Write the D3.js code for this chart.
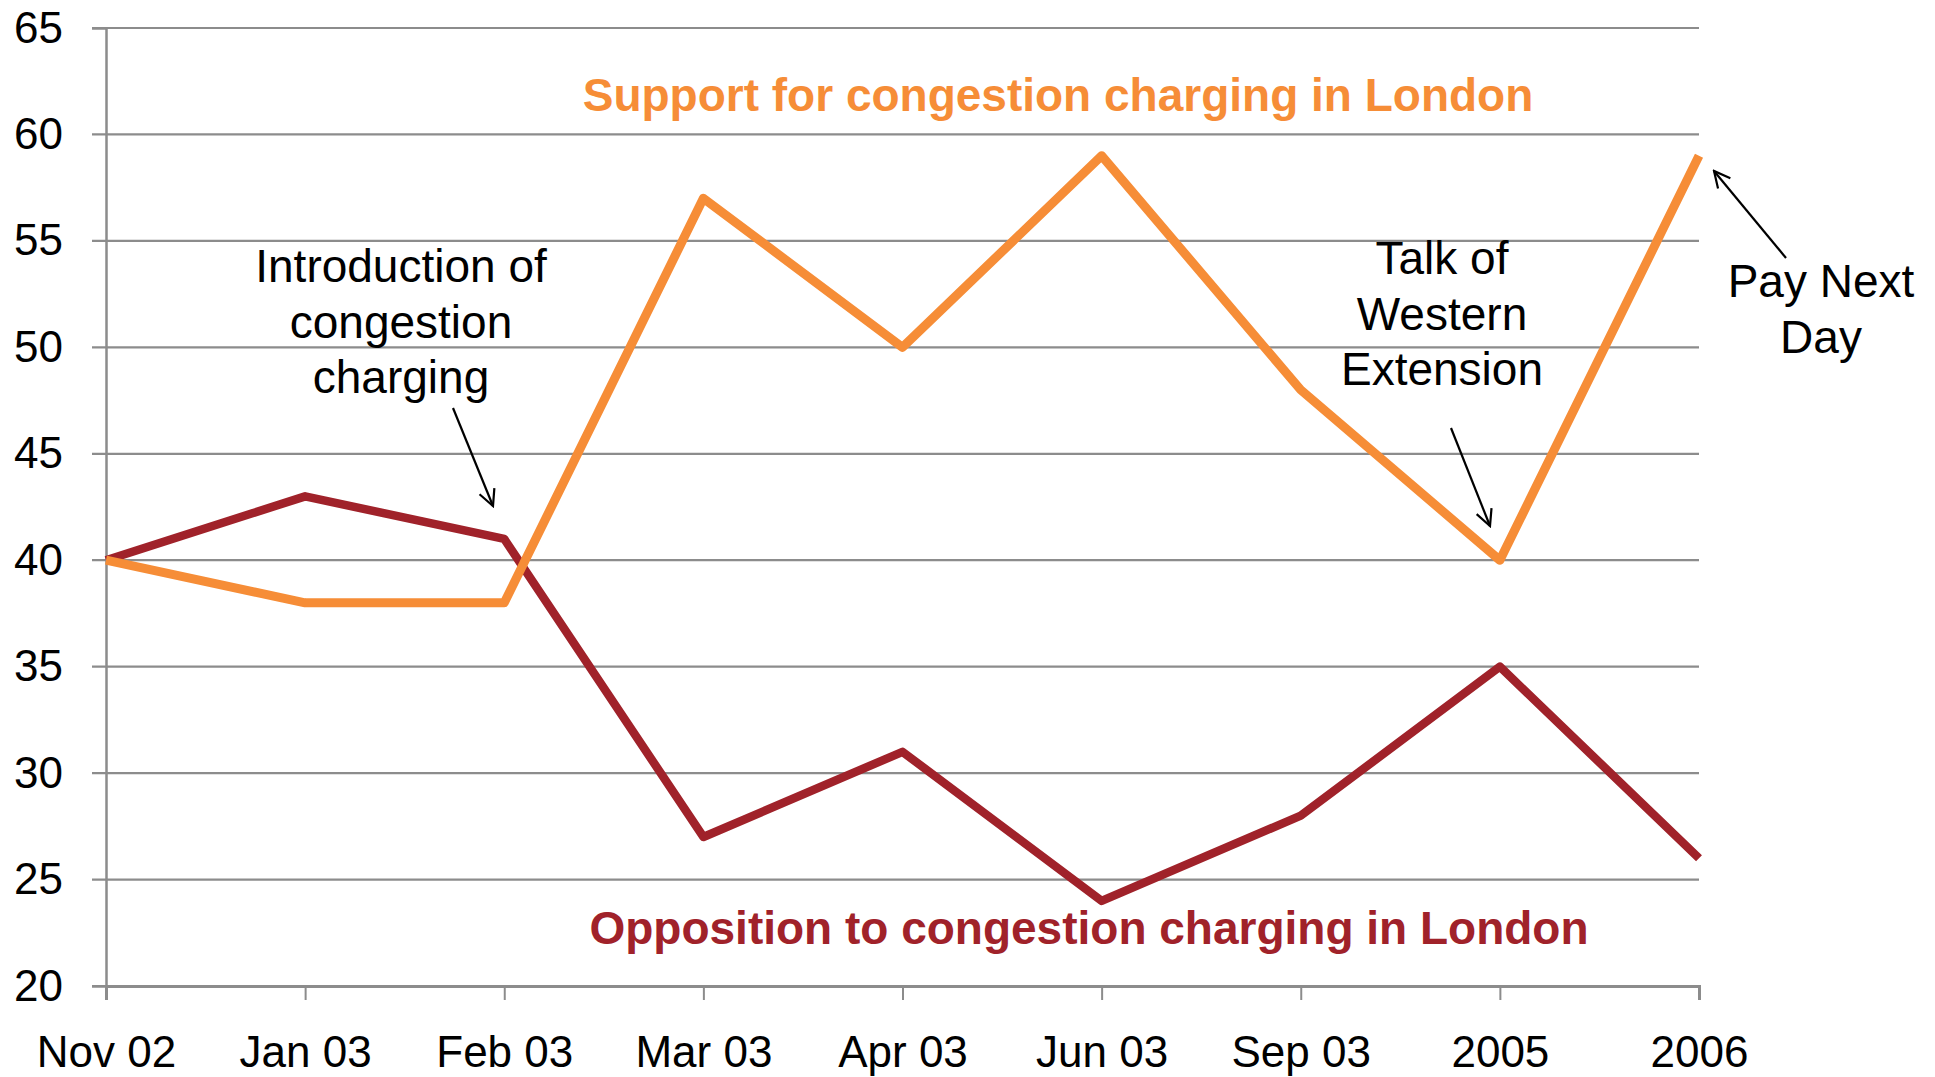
<!DOCTYPE html>
<html>
<head>
<meta charset="utf-8">
<script src="https://cdn.jsdelivr.net/npm/d3@7"></script>
<style>
  body { margin: 0; background: #fff; }
  svg text { font-family: "Liberation Sans", Arial, sans-serif; }
</style>
</head>
<body>
<div id="chart"></div>
<script>
var categories = ["Nov 02", "Jan 03", "Feb 03", "Mar 03", "Apr 03", "Jun 03", "Sep 03", "2005", "2006"];
var support = [40, 38, 38, 57, 50, 59, 48, 40, 59];
var opposition = [40, 43, 41, 27, 31, 24, 28, 35, 26];
var yTicks = [20, 25, 30, 35, 40, 45, 50, 55, 60, 65];

var width = 1935,
    height = 1077,
    margin = {top: 28, right: 236, bottom: 91, left: 106};

var orange = "#f68d37",
    darkRed = "#a0222a",
    gridColor = "#8c8c8c";

var svg = d3.select("#chart").append("svg")
    .attr("width", width)
    .attr("height", height);

var x = d3.scalePoint()
    .domain(categories)
    .range([margin.left, width - margin.right])
    .padding(0);

var y = d3.scaleLinear()
    .domain([20, 65])
    .range([height - margin.bottom, margin.top]);

// gridlines
svg.append("g")
  .selectAll("line")
  .data(yTicks)
  .join("line")
    .attr("x1", margin.left - 14)
    .attr("x2", width - margin.right)
    .attr("y1", d => y(d))
    .attr("y2", d => y(d))
    .style("stroke", gridColor)
    .style("stroke-width", 2.2);

// y axis
var yAxis = svg.append("g")
    .attr("transform", "translate(" + margin.left + ",0)")
    .call(d3.axisLeft(y).tickValues(yTicks).tickSize(14).tickPadding(29));
yAxis.select(".domain").style("stroke", gridColor).style("stroke-width", 2.5);
yAxis.selectAll(".tick line").remove();
yAxis.selectAll("text")
    .style("font-size", "44px")
    .style("fill", "#000")
    .style("font-family", "'Liberation Sans', Arial, sans-serif");

// x axis
var xAxis = svg.append("g")
    .attr("transform", "translate(0," + y(20) + ")")
    .call(d3.axisBottom(x).tickSize(14).tickPadding(36));
xAxis.select(".domain").style("stroke", gridColor).style("stroke-width", 3);
xAxis.selectAll(".tick line").style("stroke", gridColor).style("stroke-width", 2);
xAxis.selectAll("text")
    .style("font-size", "44px")
    .style("fill", "#000")
    .style("font-family", "'Liberation Sans', Arial, sans-serif");

var line = d3.line()
    .x((d, i) => x(categories[i]))
    .y(d => y(d));

svg.append("path")
    .datum(opposition)
    .attr("d", line)
    .style("fill", "none")
    .style("stroke", darkRed)
    .style("stroke-width", 8.5)
    .style("stroke-linejoin", "round");

svg.append("path")
    .datum(support)
    .attr("d", line)
    .style("fill", "none")
    .style("stroke", orange)
    .style("stroke-width", 9)
    .style("stroke-linejoin", "round");

// series labels
svg.append("text")
    .attr("x", 1058)
    .attr("y", 111)
    .attr("text-anchor", "middle")
    .style("font-size", "46px")
    .style("font-weight", "bold")
    .style("fill", orange)
    .text("Support for congestion charging in London");

svg.append("text")
    .attr("x", 1089)
    .attr("y", 944)
    .attr("text-anchor", "middle")
    .style("font-size", "46px")
    .style("font-weight", "bold")
    .style("fill", darkRed)
    .text("Opposition to congestion charging in London");

// annotations
svg.append("defs").append("marker")
    .attr("id", "head")
    .attr("markerUnits", "userSpaceOnUse")
    .attr("viewBox", "0 0 20 20")
    .attr("refX", 18)
    .attr("refY", 10)
    .attr("markerWidth", 20)
    .attr("markerHeight", 20)
    .attr("orient", "auto")
  .append("path")
    .attr("d", "M2,2 L18,10 L2,18")
    .style("fill", "none")
    .style("stroke", "#000")
    .style("stroke-width", 2.2);

var notes = [
  {lines: ["Introduction of", "congestion", "charging"], x: 401, y: 282, from: [453, 408], to: [493, 506]},
  {lines: ["Talk of", "Western", "Extension"], x: 1442, y: 274, from: [1451, 428], to: [1490, 526]},
  {lines: ["Pay Next", "Day"], x: 1821, y: 297, from: [1786, 258], to: [1714, 171]}
];

notes.forEach(function(n) {
  var t = svg.append("text")
      .attr("text-anchor", "middle")
      .style("font-size", "46px")
      .style("fill", "#000");
  n.lines.forEach(function(l, i) {
    t.append("tspan")
      .attr("x", n.x)
      .attr("y", n.y + i * 55.5)
      .text(l);
  });
  svg.append("line")
      .attr("x1", n.from[0]).attr("y1", n.from[1])
      .attr("x2", n.to[0]).attr("y2", n.to[1])
      .style("stroke", "#000")
      .style("stroke-width", 2.2)
      .attr("marker-end", "url(#head)");
});
</script>
</body>
</html>
